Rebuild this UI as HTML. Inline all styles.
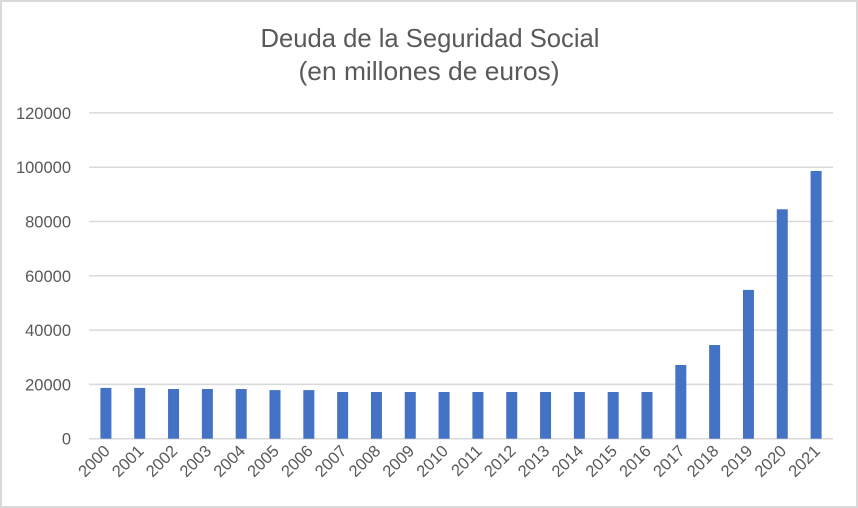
<!DOCTYPE html>
<html><head><meta charset="utf-8"><style>
body{margin:0;background:#fff}
svg{display:block;font-family:"Liberation Sans",Arial,sans-serif}
</style></head><body>
<svg id="chart" width="858" height="508" viewBox="0 0 858 508">
<rect x="1" y="1" width="856" height="506" fill="#fff" stroke="#d9d9d9" stroke-width="2"/>
<text x="430" y="47" text-anchor="middle" font-size="26" fill="#595959" textLength="339" lengthAdjust="spacingAndGlyphs">Deuda de la Seguridad Social</text>
<text x="429" y="80" text-anchor="middle" font-size="26" fill="#595959" textLength="261" lengthAdjust="spacingAndGlyphs">(en millones de euros)</text>
<g id="grid"></g><g id="bars"></g><g id="ylabels"></g><g id="xlabels"></g>
</svg>
<script>
const categories=["2000","2001","2002","2003","2004","2005","2006","2007","2008","2009","2010","2011","2012","2013","2014","2015","2016","2017","2018","2019","2020","2021"];
const values=[18700,18700,18300,18300,18300,17900,17900,17200,17200,17200,17200,17200,17200,17200,17200,17200,17200,27150,34500,54800,84500,98600];
const yTicks=[0,20000,40000,60000,80000,100000,120000];
const NS="http://www.w3.org/2000/svg";
const L=89,R=833,Y0=438.7,Y1=112.9,YMAX=120000;
const y=v=>Y0-(v/YMAX)*(Y0-Y1);
const step=(R-L)/categories.length;
const x=i=>L+step*(i+0.5);
function mk(t,a){const e=document.createElementNS(NS,t);for(const k in a)e.setAttribute(k,a[k]);return e;}
const grid=document.getElementById('grid'),bars=document.getElementById('bars'),yl=document.getElementById('ylabels'),xl=document.getElementById('xlabels');
yTicks.forEach(t=>{
 const ln=mk('line',{x1:L,x2:R,y1:y(t),y2:y(t),stroke:'#d9d9d9','stroke-width':1.5});
 
 
 grid.appendChild(ln);
 const tx=mk('text',{x:71,y:y(t)+6,'text-anchor':'end','font-size':16.5,fill:'#595959'});
 tx.textContent=t;
 
 
 yl.appendChild(tx);
});
categories.forEach((c,i)=>{
 const b=mk('rect',{x:x(i)-5.5,y:y(values[i]),width:11,height:Y0-y(values[i]),fill:'#4472c4'});
 
 
 bars.appendChild(b);
 const cx=x(i)+5,cy=452;
 const tx=mk('text',{x:cx,y:cy,'text-anchor':'end','font-size':16.5,fill:'#595959',transform:`rotate(-45 ${cx} ${cy})`});
 tx.textContent=c;
 
 
 xl.appendChild(tx);
});
</script>
</body></html>
